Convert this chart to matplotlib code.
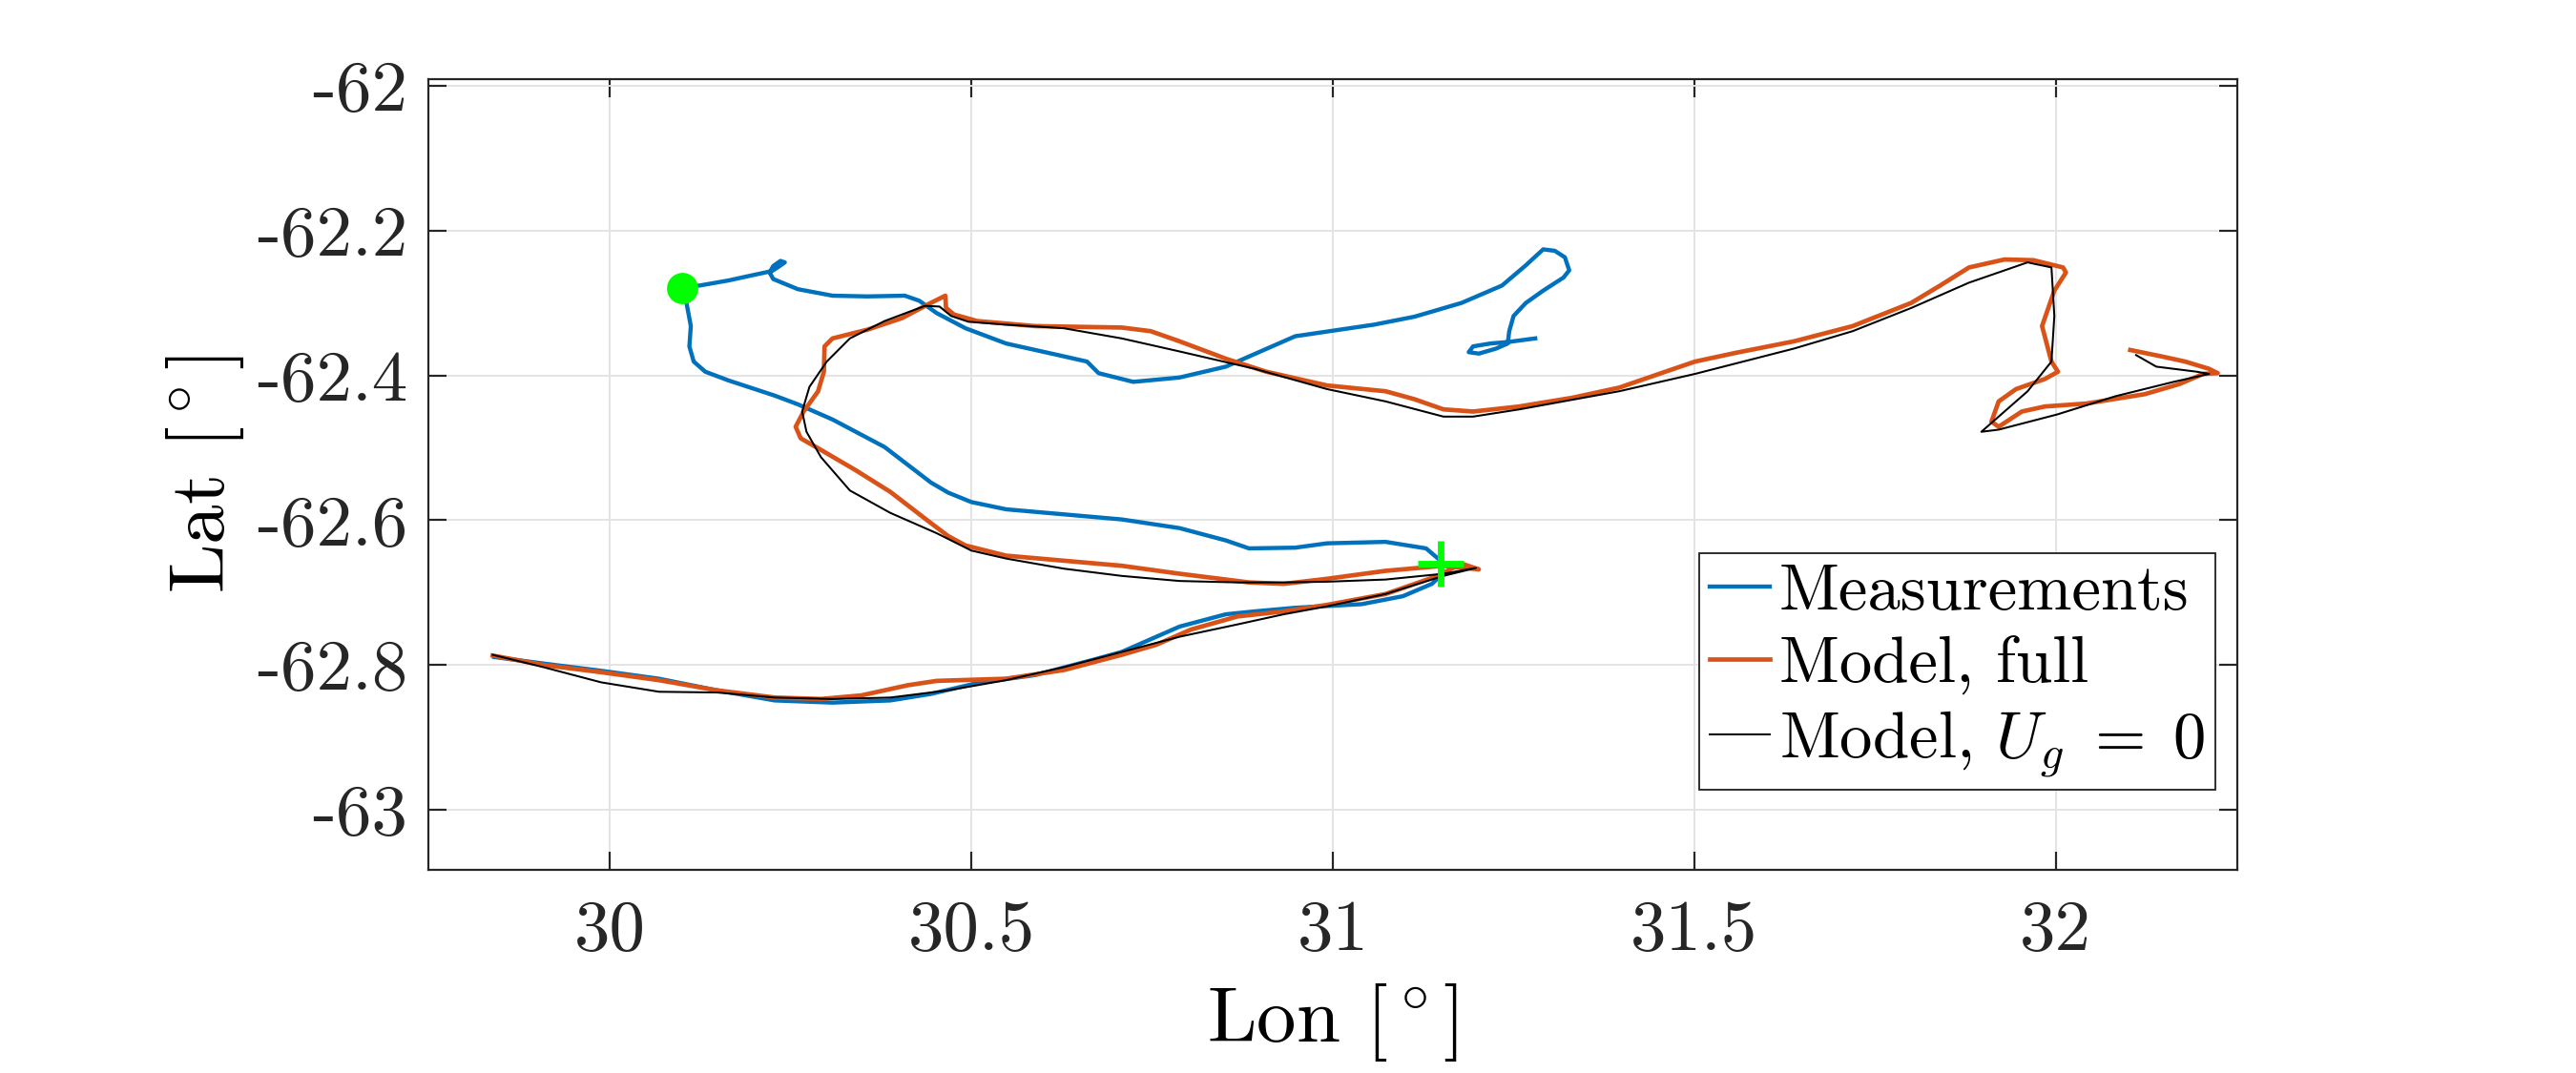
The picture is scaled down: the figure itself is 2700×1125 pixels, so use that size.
import matplotlib
matplotlib.use('Agg')
import matplotlib.pyplot as plt
import numpy as np

# Drifter track vs. two model runs (lon, lat in degrees)
meas_lon = [29.840, 29.908, 29.988, 30.068, 30.148, 30.228, 30.308, 30.388, 30.444, 30.508,
            30.588, 30.668, 30.708, 30.788, 30.852, 30.892, 30.948, 31.040, 31.097, 31.137,
            31.152, 31.149, 31.129, 31.073, 30.992, 30.948, 30.884, 30.852, 30.788, 30.708,
            30.628, 30.548, 30.500, 30.468, 30.444, 30.380, 30.308, 30.260, 30.228, 30.164,
            30.132, 30.116, 30.110, 30.112, 30.106, 30.100, 30.124, 30.164, 30.196, 30.224,
            30.232, 30.242, 30.236, 30.226, 30.221, 30.226, 30.260, 30.308, 30.356, 30.408,
            30.428, 30.452, 30.492, 30.548, 30.620, 30.660, 30.676, 30.724, 30.788, 30.852,
            30.900, 30.948, 31.057, 31.113, 31.178, 31.234, 31.267, 31.291, 31.307, 31.321,
            31.327, 31.319, 31.291, 31.267, 31.250, 31.244, 31.242, 31.226, 31.202, 31.188,
            31.194, 31.218, 31.242, 31.280]
meas_lat = [-62.789, -62.798, -62.808, -62.819, -62.835, -62.849, -62.852, -62.849, -62.840, -62.825,
            -62.814, -62.793, -62.782, -62.747, -62.730, -62.726, -62.721, -62.716, -62.705, -62.688,
            -62.674, -62.656, -62.639, -62.630, -62.632, -62.638, -62.639, -62.628, -62.611, -62.599,
            -62.592, -62.585, -62.575, -62.562, -62.548, -62.499, -62.461, -62.440, -62.428, -62.407,
            -62.395, -62.381, -62.360, -62.332, -62.300, -62.279, -62.276, -62.269, -62.262, -62.256,
            -62.251, -62.244, -62.242, -62.249, -62.258, -62.267, -62.281, -62.290, -62.291, -62.290,
            -62.297, -62.314, -62.335, -62.356, -62.372, -62.381, -62.397, -62.409, -62.403, -62.388,
            -62.367, -62.346, -62.330, -62.319, -62.300, -62.276, -62.248, -62.226, -62.228, -62.237,
            -62.255, -62.265, -62.283, -62.300, -62.318, -62.339, -62.356, -62.363, -62.370, -62.368,
            -62.360, -62.356, -62.354, -62.349]

full_lon = [29.838, 29.908, 29.988, 30.068, 30.148, 30.228, 30.292, 30.348, 30.412, 30.452,
            30.548, 30.628, 30.708, 30.756, 30.804, 30.868, 30.932, 30.992, 31.073, 31.145,
            31.178, 31.202, 31.153, 31.073, 30.992, 30.932, 30.884, 30.788, 30.708, 30.628,
            30.548, 30.492, 30.468, 30.444, 30.388, 30.340, 30.292, 30.264, 30.257, 30.268,
            30.288, 30.296, 30.297, 30.308, 30.356, 30.404, 30.444, 30.464, 30.465, 30.476,
            30.508, 30.588, 30.708, 30.748, 30.788, 30.852, 30.908, 30.992, 31.073, 31.113,
            31.153, 31.194, 31.258, 31.331, 31.396, 31.460, 31.501, 31.557, 31.638, 31.719,
            31.800, 31.840, 31.880, 31.929, 31.969, 32.010, 32.014, 31.998, 31.981, 31.994,
            32.003, 31.985, 31.945, 31.921, 31.911, 31.921, 31.953, 31.985, 32.042, 32.123,
            32.171, 32.204, 32.224, 32.212, 32.179, 32.147, 32.103]
full_lat = [-62.787, -62.800, -62.810, -62.821, -62.835, -62.845, -62.847, -62.842, -62.828, -62.822,
            -62.819, -62.807, -62.786, -62.772, -62.751, -62.733, -62.726, -62.717, -62.702, -62.677,
            -62.660, -62.668, -62.663, -62.670, -62.681, -62.688, -62.686, -62.674, -62.663, -62.656,
            -62.649, -62.635, -62.622, -62.604, -62.561, -62.531, -62.503, -62.487, -62.471, -62.450,
            -62.422, -62.395, -62.360, -62.349, -62.337, -62.321, -62.300, -62.290, -62.307, -62.316,
            -62.325, -62.332, -62.334, -62.339, -62.353, -62.377, -62.395, -62.414, -62.422, -62.433,
            -62.447, -62.450, -62.443, -62.431, -62.417, -62.395, -62.381, -62.369, -62.353, -62.332,
            -62.300, -62.276, -62.251, -62.240, -62.241, -62.251, -62.258, -62.283, -62.332, -62.381,
            -62.395, -62.405, -62.419, -62.436, -62.464, -62.471, -62.450, -62.443, -62.439, -62.426,
            -62.412, -62.398, -62.397, -62.391, -62.381, -62.374, -62.365]

ug0_lon = [29.838, 29.908, 29.988, 30.068, 30.148, 30.228, 30.308, 30.388, 30.468, 30.548,
           30.628, 30.708, 30.788, 30.868, 30.932, 30.992, 31.073, 31.153, 31.198, 31.153,
           31.073, 30.992, 30.932, 30.868, 30.788, 30.708, 30.628, 30.548, 30.500, 30.452,
           30.388, 30.332, 30.292, 30.272, 30.266, 30.276, 30.300, 30.332, 30.380, 30.436,
           30.456, 30.472, 30.496, 30.548, 30.628, 30.708, 30.788, 30.892, 30.992, 31.073,
           31.153, 31.194, 31.258, 31.396, 31.501, 31.638, 31.719, 31.800, 31.880, 31.961,
           31.994, 31.998, 31.994, 31.961, 31.929, 31.897, 31.921, 32.002, 32.082, 32.163,
           32.212, 32.195, 32.139, 32.111]
ug0_lat = [-62.786, -62.803, -62.824, -62.837, -62.838, -62.845, -62.847, -62.845, -62.835, -62.821,
           -62.803, -62.782, -62.761, -62.744, -62.730, -62.719, -62.702, -62.677, -62.666, -62.674,
           -62.682, -62.685, -62.686, -62.686, -62.684, -62.677, -62.667, -62.653, -62.642, -62.618,
           -62.590, -62.559, -62.513, -62.478, -62.450, -62.416, -62.381, -62.349, -62.325, -62.304,
           -62.305, -62.318, -62.326, -62.330, -62.335, -62.349, -62.367, -62.391, -62.419, -62.436,
           -62.457, -62.457, -62.447, -62.422, -62.398, -62.363, -62.339, -62.307, -62.272, -62.244,
           -62.251, -62.318, -62.381, -62.422, -62.450, -62.478, -62.475, -62.454, -62.429, -62.409,
           -62.398, -62.395, -62.388, -62.372]

start_pt = (30.100, -62.279)
end_pt = (31.149, -62.660)

x_ticks = [30, 30.5, 31, 31.5, 32]
y_ticks = [-63, -62.8, -62.6, -62.4, -62.2, -62]

plt.rcParams['font.family'] = 'cmr10'
plt.rcParams['mathtext.fontset'] = 'cm'
plt.rcParams['axes.unicode_minus'] = False

fig = plt.figure(figsize=(12, 5), dpi=225)
ax = fig.add_axes([0.1663, 0.1893, 0.7022, 0.7369])

ax.plot(meas_lon, meas_lat, color='#0072BD', lw=1.4, label='Measurements')
ax.plot(full_lon, full_lat, color='#D95319', lw=1.5, label='Model, full')
ax.plot(ug0_lon, ug0_lat, color='k', lw=0.65, label=r'Model, $U_g\;=\;0$')
ax.plot(*start_pt, 'o', color='#00FF00', ms=9.5, mec='#00FF00')
ax.plot(*end_pt, '+', color='#00FF00', ms=15.5, mew=2.2)

ax.set_xlim(29.749, 32.251)
ax.set_ylim(-63.083, -61.991)
ax.set_xticks(x_ticks)
ax.set_yticks(y_ticks)
ax.set_xticklabels(['%g' % v for v in x_ticks])
ax.set_yticklabels(['%g' % v for v in y_ticks])

ax.grid(True, color='#e3e3e3', lw=0.6)
ax.set_axisbelow(True)
for s in ax.spines.values():
    s.set_color('#262626')
    s.set_linewidth(0.7)
ax.tick_params(direction='in', length=6, width=0.7, colors='#262626',
               top=True, right=True, labelsize=24)
ax.tick_params(axis='x', pad=10)
ax.tick_params(axis='y', pad=7)

ax.set_xlabel(r'Lon [$^\circ$]', fontsize=26.5)
ax.set_ylabel(r'Lat [$^\circ$]', fontsize=26.5)
ax.xaxis.set_label_coords(0.5, -0.141)
ax.yaxis.set_label_coords(-0.101, 0.5)

leg = ax.legend(loc='lower right', bbox_to_anchor=(0.9879, 0.1013), borderaxespad=0,
                fontsize=22, handlelength=0.92, handletextpad=0.15, labelspacing=0.21,
                borderpad=0.16, fancybox=False, framealpha=1)
leg.get_frame().set_edgecolor('#262626')
leg.get_frame().set_linewidth(0.6)

fig.savefig('out.png', dpi=225)
